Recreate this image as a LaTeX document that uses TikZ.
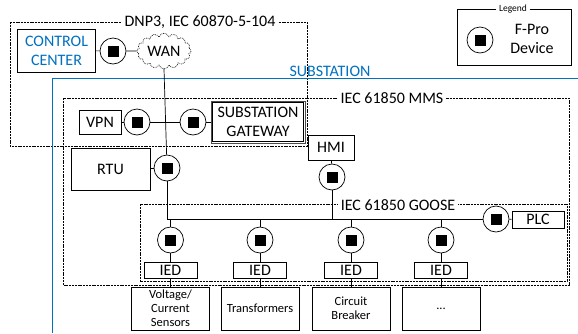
\documentclass[tikz,border=0pt]{standalone}
\usepackage{fontspec}
\setmainfont{Carlito}
\usetikzlibrary{shapes.symbols}
\definecolor{obl}{RGB}{0,112,192}
\begin{document}
\begin{tikzpicture}[x=1pt,y=-1pt,
  every node/.style={font=\fontsize{16}{19}\selectfont},
  box/.style={draw,line width=0.7pt,align=center,inner sep=0pt},
  fpro/.style={circle,draw,line width=0.7pt,minimum size=26pt,inner sep=0pt,
    path picture={\fill ([xshift=-5.5pt,yshift=-5.5pt]path picture bounding box.center) rectangle ++(11pt,11pt);}},
  zone/.style={line width=0.7pt,dash pattern=on 2pt off 0.8pt},
  lbl/.style={fill=white,inner xsep=3pt,inner ysep=0pt},
  ln/.style={line width=0.7pt},
  small/.style={font=\fontsize{12.5}{14}\selectfont}
]
\useasboundingbox (0,0) rectangle (578,333);
% DNP3 zone
\draw[zone] (10,22) rectangle (307,146);
\node[lbl] (dnp) at (200,22) {DNP3, IEC 60870-5-104};
% substation
\draw[obl,line width=0.9pt] (52,333) -- (52,78) -- (578,78);
\node[text=obl,anchor=base] (sub) at (330,76) {SUBSTATION};
% MMS zone
\draw[zone] (63,98) rectangle (569,285);
\node[lbl] (mms) at (392,98) {IEC 61850 MMS};
% GOOSE zone
\draw[zone,line width=1pt] (140,204) rectangle (567,281);
\node[lbl] (goose) at (398,205) {IEC 61850 GOOSE};
% legend
\draw[ln] (457,9) rectangle (571,65);
\node[lbl,font=\fontsize{9.5}{11}\selectfont] (leg) at (513,9) {Legend};
\node[fpro] (lf) at (480,40) {};
\node[align=center] (lt) at (532,39) {F-Pro\\Device};
% control center
\node[box,minimum width=78pt,minimum height=43pt,text=obl] (cc) at (56.5,50.5) {CONTROL\\CENTER};
\node[fpro] (ccf) at (113,51) {};
\node[cloud,cloud puffs=16,aspect=1.6,draw,densely dotted,line width=0.7pt,minimum width=54pt,minimum height=33pt,inner sep=0pt] (wan) at (164,51) {WAN};
\draw[ln] (cc) -- (ccf) -- (wan);
% VPN & gateway
\node[box,minimum width=42pt,minimum height=24pt] (vpn) at (100,122) {VPN};
\node[fpro] (vpnf) at (137,122) {};
\node[fpro] (gwf) at (193,122) {};
\node[box,draw=black!70,minimum width=94pt,minimum height=42pt] (gw) at (258,122) {SUBSTATION\\GATEWAY};
\draw[line width=0.6pt] ([shift={(1.8pt,-1.8pt)}]gw.north west) rectangle ([shift={(-1.8pt,1.8pt)}]gw.south east);
\draw[ln] (vpn) -- (vpnf) -- (gwf) -- (gw);
% RTU
\node[box,minimum width=79pt,minimum height=42pt] (rtu) at (110.5,169) {RTU};
\node[fpro] (rtuf) at (167,168) {};
\draw[ln] (rtu.east |- rtuf) -- (rtuf);
\draw[ln] (wan.south) -- (rtuf);
% HMI
\node[box,minimum width=46pt,minimum height=25pt] (hmi) at (331,147.5) {HMI};
\node[fpro] (hmif) at (332,177) {};
\draw[ln] (hmi) -- (hmif);
\coordinate (hb) at (332,219);
\draw[ln] (hmif) -- (hb);
% PLC
\node[fpro] (plcf) at (496,219) {};
\node[box,minimum width=52pt,minimum height=17pt] (plc) at (538,219.5) {PLC};
\draw[ln] (plcf) -- (plc);
% bus
\coordinate (b0) at (167,219);
\draw[ln] (rtuf) -- (b0) -- (plcf);
% IEDs
\foreach \i/\x/\t in {1/170.5/{Voltage/\\Current\\Sensors},2/260/Transformers,3/351/{Circuit\\Breaker},4/441/{...}}{
  \node[fpro] (f\i) at (\x,240) {};
  \node[box,minimum width=53pt,minimum height=16pt] (ied\i) at (\x,270) {IED};
  \node[box,small,minimum width=78pt,minimum height=43pt] (dev\i) at (\x,308.5) {\t};
  \draw[ln] (\x,219) -- (f\i);
  \draw[ln] (f\i) -- (ied\i);
  \draw[ln] (ied\i) -- (dev\i);
}
\end{tikzpicture}
\end{document}
